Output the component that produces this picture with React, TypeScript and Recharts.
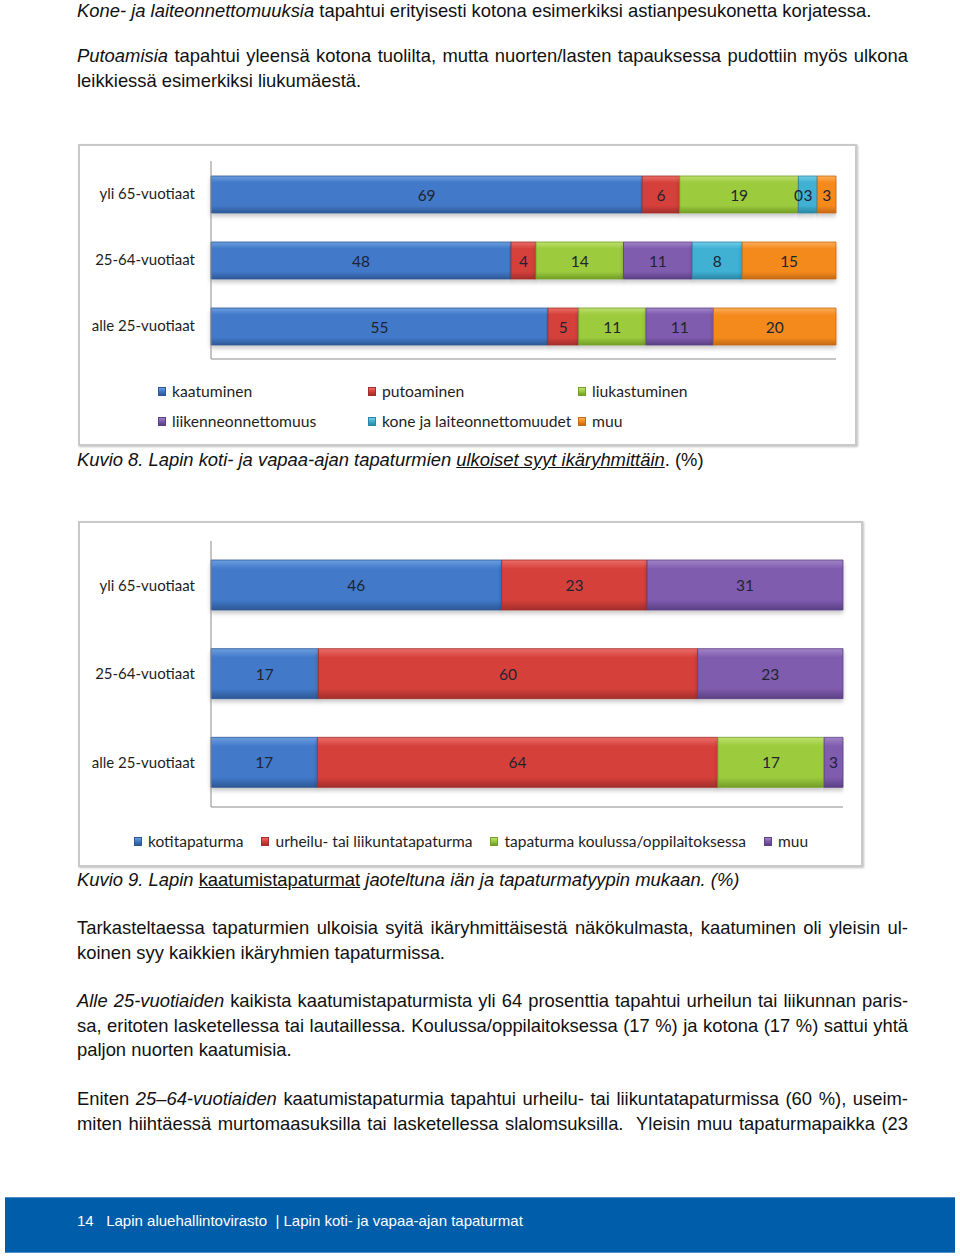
import React from "react";
import { Bar, BarChart, LabelList, XAxis, YAxis } from "recharts";

// ikäryhmät (rows, top to bottom)
const ageGroups = ["yli 65-vuotiaat", "25-64-vuotiaat", "alle 25-vuotiaat"];

// Kuvio 8: ulkoiset syyt (%)
const causeNames = [
  "kaatuminen", "putoaminen", "liukastuminen",
  "liikenneonnettomuus", "kone ja laiteonnettomuudet", "muu",
];
const kaatuminen = [69, 48, 55];
const putoaminen = [6, 4, 5];
const liukastuminen = [19, 14, 11];
const liikenne = [0, 11, 11];
const kone = [3, 8, null];
const muuSyy = [3, 15, 20];

// Kuvio 9: kaatumistapaturmat tapaturmatyypin mukaan (%)
const fallTypeNames = [
  "kotitapaturma", "urheilu- tai liikuntatapaturma",
  "tapaturma koulussa/oppilaitoksessa", "muu",
];
const koti = [46, 17, 17];
const urheilu = [23, 60, 64];
const koulu = [null, null, 17];
const muuTyyppi = [31, 23, 3];

type Shade = { id: string; light: string; base: string; dark: string };
const BLUE: Shade = { id: "blue", light: "#6C9FE0", base: "#4279C9", dark: "#2D5895" };
const RED: Shade = { id: "red", light: "#EA6E69", base: "#D6403B", dark: "#A22E2B" };
const GREEN: Shade = { id: "green", light: "#BEE06E", base: "#9CCB3D", dark: "#739E28" };
const PURPLE: Shade = { id: "purple", light: "#A184C8", base: "#7F5BAE", dark: "#5B4084" };
const CYAN: Shade = { id: "cyan", light: "#72CEE8", base: "#3FB0D3", dark: "#2A86A4" };
const ORANGE: Shade = { id: "orange", light: "#FBAE5C", base: "#F58A1F", dark: "#C46A12" };

const causeColors = [BLUE, RED, GREEN, PURPLE, CYAN, ORANGE];
const fallColors = [BLUE, RED, GREEN, PURPLE];

const causeSeries = [kaatuminen, putoaminen, liukastuminen, liikenne, kone, muuSyy];
const fallSeries = [koti, urheilu, koulu, muuTyyppi];

const buildRows = (series: (number | null)[][]) =>
  ageGroups.map((group, i) => {
    const row: Record<string, string | number | null> = { group };
    series.forEach((s, k) => { row["s" + k] = s[i]; });
    return row;
  });

const causeRows = buildRows(causeSeries);
const fallRows = buildRows(fallSeries);

const LABEL_FONT = "Lato, 'Open Sans', sans-serif";
const TEXT_FONT = "'Liberation Sans', Arial, sans-serif";
const TEXT_SIZE = 18.4;

const Gradients = ({ chart, shades }: { chart: string; shades: Shade[] }) => (
  <defs>
    {shades.map((c) => (
      <linearGradient key={c.id} id={`${chart}-${c.id}`} x1="0" y1="0" x2="0" y2="1">
        <stop offset="0%" stopColor={c.light} />
        <stop offset="18%" stopColor={c.base} />
        <stop offset="80%" stopColor={c.base} />
        <stop offset="100%" stopColor={c.dark} />
      </linearGradient>
    ))}
    <filter id={`${chart}-shadow`} x="-5%" y="-20%" width="110%" height="160%">
      <feDropShadow dx="0" dy="3" stdDeviation="2" floodColor="#000" floodOpacity="0.22" />
    </filter>
  </defs>
);

const numText = (x: number, y: number, v: number, key?: string) => (
  <text
    key={key}
    x={x}
    y={y}
    textAnchor="middle"
    dominantBaseline="central"
    fontFamily={LABEL_FONT}
    fontSize={15.5}
    fill="#1E2430"
  >
    {v}
  </text>
);

// a zero-width segment draws no rect, so its "0" is drawn by the next segment at the shared edge
const makeLabel = (series: (number | null)[][], k: number) => (props: any) => {
  const { value } = props;
  if (value === null || value === undefined) return null;
  const vb = props.viewBox ?? props;
  const x = Number(vb.x ?? props.x);
  const y = Number(vb.y ?? props.y);
  const w = Number(vb.width ?? props.width);
  const h = Number(vb.height ?? props.height);
  const idx = props.index;
  const zeros: React.ReactNode[] = [];
  if (typeof idx === "number") {
    for (let j = k - 1; j >= 0 && series[j][idx] === 0; j--) {
      zeros.push(numText(x, y + h / 2, 0, "z" + j));
    }
  }
  return (
    <g>
      {zeros}
      {numText(x + w / 2, y + h / 2, value)}
    </g>
  );
};

interface StackProps {
  chart: string;
  rows: Record<string, string | number | null>[];
  series: (number | null)[][];
  names: string[];
  shades: Shade[];
  width: number;
  height: number;
  barSize: number;
  margin: { top: number; right: number; bottom: number; left: number };
  axisWidth: number;
}

const StackedPercentBars = ({ chart, rows, series, names, shades, width, height, barSize, margin, axisWidth }: StackProps) => (
  <BarChart
    width={width}
    height={height}
    data={rows}
    layout="vertical"
    stackOffset="expand"
    margin={margin}
  >
    <Gradients chart={chart} shades={shades} />
    <XAxis type="number" domain={[0, 1]} tick={false} tickLine={false} height={4} axisLine={{ stroke: "#8C8C8C" }} />
    <YAxis
      type="category"
      dataKey="group"
      width={axisWidth}
      tickLine={false}
      tickSize={0}
      tickMargin={16}
      axisLine={{ stroke: "#8C8C8C" }}
      tick={{ fontFamily: LABEL_FONT, fontSize: 15, fill: "#1E1E1E" }}
    />
    {names.map((name, k) => (
      <Bar
        key={name}
        name={name}
        dataKey={"s" + k}
        stackId="a"
        barSize={barSize}
        fill={`url(#${chart}-${shades[k].id})`}
        stroke={shades[k].dark}
        strokeWidth={0.8}
        style={{ filter: `url(#${chart}-shadow)` }}
        isAnimationActive={false}
      >
        <LabelList dataKey={"s" + k} content={makeLabel(series, k)} />
      </Bar>
    ))}
  </BarChart>
);

const LegendItem = ({ name, shade, style }: { name: string; shade: Shade; style?: React.CSSProperties }) => (
  <span style={{ display: "inline-flex", alignItems: "center", whiteSpace: "nowrap", ...style }}>
    <span
      style={{
        display: "inline-block",
        width: 8,
        height: 9,
        marginRight: 6,
        background: `linear-gradient(${shade.light}, ${shade.base} 45%, ${shade.dark})`,
        border: `1px solid ${shade.dark}`,
        boxSizing: "border-box",
      }}
    />
    {name}
  </span>
);

const frameStyle: React.CSSProperties = {
  position: "absolute",
  border: "2px solid #C9C9C9",
  boxShadow: "1px 1px 2px rgba(0,0,0,0.25)",
  boxSizing: "border-box",
  background: "#fff",
};

const lineStyle = (center: number, justify = false): React.CSSProperties => ({
  position: "absolute",
  left: 77,
  width: 831,
  top: center - 12,
  height: 24,
  lineHeight: "24px",
  fontSize: TEXT_SIZE,
  whiteSpace: "nowrap",
  textAlign: justify ? "justify" : "left",
  textAlignLast: justify ? "justify" : "left",
  color: "#111",
});

const App = () => {
  return (
    <div
      style={{
        position: "absolute",
        left: 0,
        top: 0,
        width: 960,
        height: 1259,
        overflow: "hidden",
        background: "#fff",
        fontFamily: TEXT_FONT,
      }}
    >
      <div style={{ ...lineStyle(8), top: 0, height: 21, lineHeight: "21px" }}>
        <i>Kone- ja laiteonnettomuuksia</i> tapahtui erityisesti kotona esimerkiksi astianpesukonetta korjatessa.
      </div>
      <div style={lineStyle(56, true)}>
        <i>Putoamisia</i> tapahtui yleensä kotona tuolilta, mutta nuorten/lasten tapauksessa pudottiin myös ulkona
      </div>
      <div style={lineStyle(81)}>leikkiessä esimerkiksi liukumäestä.</div>

      {/* Kuvio 8 */}
      <div style={{ ...frameStyle, left: 78, top: 144, width: 779, height: 302 }}>
        <div style={{ position: "absolute", left: -2, top: -2 }}>
          <StackedPercentBars
            chart="c8"
            rows={causeRows}
            series={causeSeries}
            names={causeNames}
            shades={causeColors}
            width={780}
            height={223}
            barSize={37}
            margin={{ top: 17, right: 22, bottom: 4, left: 0 }}
            axisWidth={133}
          />
        </div>
        <div style={{ position: "absolute", left: 78, top: 235, fontFamily: LABEL_FONT, fontSize: 15.7, color: "#1E1E1E" }}>
          {causeNames.map((n, k) => (
            <LegendItem
              key={n}
              name={n}
              shade={causeColors[k]}
              style={{ position: "absolute", left: (k % 3) * 210, top: Math.floor(k / 3) * 30, height: 20 }}
            />
          ))}
        </div>
      </div>
      <div style={{ ...lineStyle(460), fontStyle: "italic" }}>
        Kuvio 8. Lapin koti- ja vapaa-ajan tapaturmien <u>ulkoiset syyt ikäryhmittäin</u>
        <span style={{ fontStyle: "normal" }}>. (%)</span>
      </div>

      {/* Kuvio 9 */}
      <div style={{ ...frameStyle, left: 78, top: 521, width: 785, height: 346 }}>
        <div style={{ position: "absolute", left: -2, top: -2 }}>
          <StackedPercentBars
            chart="c9"
            rows={fallRows}
            series={fallSeries}
            names={fallTypeNames}
            shades={fallColors}
            width={786}
            height={294}
            barSize={50}
            margin={{ top: 20, right: 21, bottom: 4, left: 0 }}
            axisWidth={133}
          />
        </div>
        <div
          style={{
            position: "absolute",
            left: 54,
            top: 308,
            height: 20,
            display: "flex",
            gap: 18,
            fontFamily: LABEL_FONT,
            fontSize: 15.5,
            color: "#1E1E1E",
          }}
        >
          {fallTypeNames.map((n, k) => (
            <LegendItem key={n} name={n} shade={fallColors[k]} />
          ))}
        </div>
      </div>
      <div style={{ ...lineStyle(880), fontStyle: "italic" }}>
        Kuvio 9. Lapin <u style={{ fontStyle: "normal" }}>kaatumistapaturmat</u> jaoteltuna iän ja tapaturmatyypin mukaan. (%)
      </div>

      <div style={lineStyle(928, true)}>
        Tarkasteltaessa tapaturmien ulkoisia syitä ikäryhmittäisestä näkökulmasta, kaatuminen oli yleisin ul-
      </div>
      <div style={lineStyle(953)}>koinen syy kaikkien ikäryhmien tapaturmissa.</div>

      <div style={lineStyle(1001, true)}>
        <i>Alle 25-vuotiaiden</i> kaikista kaatumistapaturmista yli 64 prosenttia tapahtui urheilun tai liikunnan paris-
      </div>
      <div style={lineStyle(1026, true)}>
        sa, eritoten lasketellessa tai lautaillessa. Koulussa/oppilaitoksessa (17 %) ja kotona (17 %) sattui yhtä
      </div>
      <div style={lineStyle(1050)}>paljon nuorten kaatumisia.</div>

      <div style={lineStyle(1099, true)}>
        Eniten <i>25–64-vuotiaiden</i> kaatumistapaturmia tapahtui urheilu- tai liikuntatapaturmissa (60 %), useim-
      </div>
      <div style={lineStyle(1124, true)}>
        miten hiihtäessä murtomaasuksilla tai lasketellessa slalomsuksilla.&nbsp; Yleisin muu tapaturmapaikka (23
      </div>

      {/* footer */}
      <div
        style={{
          position: "absolute",
          left: 5,
          top: 1197,
          width: 950,
          height: 56,
          background: "#005DAA",
          borderTop: "1px solid #4A8FCC",
          borderBottom: "1px solid #4A8FCC",
          boxSizing: "border-box",
        }}
      >
        <div
          style={{
            position: "absolute",
            left: 72,
            top: 12,
            lineHeight: "22px",
            fontSize: 15,
            color: "#fff",
            whiteSpace: "pre",
          }}
        >
          {"14   Lapin aluehallintovirasto  | Lapin koti- ja vapaa-ajan tapaturmat"}
        </div>
      </div>
    </div>
  );
};

export default App;
